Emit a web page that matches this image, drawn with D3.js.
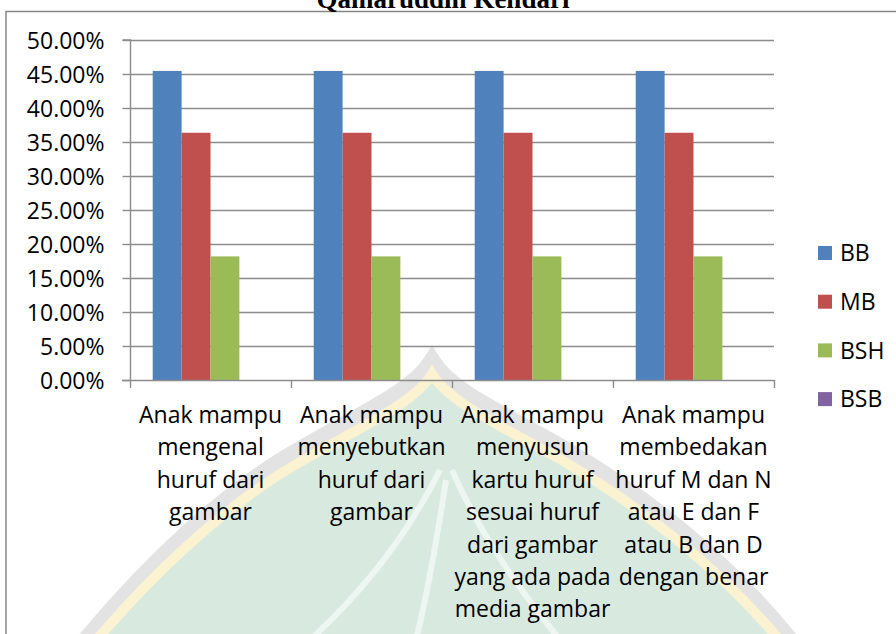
<!DOCTYPE html>
<html>
<head>
<meta charset="utf-8">
<script src="https://cdn.jsdelivr.net/npm/d3@7"></script>
<style>
  body { margin: 0; background: #fff; }
  svg text { font-family: "Open Sans", sans-serif; fill: #000; }
</style>
</head>
<body>
<svg id="chart" width="896" height="634"></svg>
<script>
// data
var categories = [
    ["Anak mampu", "mengenal", "huruf dari", "gambar"],
    ["Anak mampu", "menyebutkan", "huruf dari", "gambar"],
    ["Anak mampu", "menyusun", "kartu huruf", "sesuai huruf", "dari gambar", "yang ada pada", "media gambar"],
    ["Anak mampu", "membedakan", "huruf M dan N", "atau E dan F", "atau B dan D", "dengan benar"]
];
var seriesNames = ["BB", "MB", "BSH", "BSB"];
var seriesColors = ["#4f81bd", "#c0504d", "#9bbb59", "#8064a2"];
var BB = [0.4545, 0.4545, 0.4545, 0.4545];
var MB = [0.3636, 0.3636, 0.3636, 0.3636];
var BSH = [0.1818, 0.1818, 0.1818, 0.1818];
var BSB = [0, 0, 0, 0];
var yTicks = [0, 0.05, 0.10, 0.15, 0.20, 0.25, 0.30, 0.35, 0.40, 0.45, 0.50];

var seriesValues = [BB, MB, BSH, BSB];

var svg = d3.select("#chart");

// faint logo watermark behind the chart
var wm = svg.append("g").attr("class", "watermark");
var arch = "M70,660 C150,560 230,490 300,450 C370,410 415,390 432,362 C449,390 494,410 565,450 C640,495 730,560 805,660 Z";
wm.append("path").attr("d", arch)
    .style("fill", "#d8eadf")
    .style("stroke", "#e3e3e3")
    .style("stroke-width", 18);
wm.append("path").attr("d", arch)
    .style("fill", "none")
    .style("stroke", "#fbf2d2")
    .style("stroke-width", 10)
    .attr("transform", "translate(0,12)");
wm.append("path")
    .attr("d", "M440,470 C410,530 370,585 310,640 M452,470 C480,535 520,590 560,640 M446,480 C436,545 426,600 416,640")
    .style("fill", "none")
    .style("stroke", "#ffffff")
    .style("stroke-width", 6)
    .style("opacity", 0.55);

// chart border
svg.append("path")
    .attr("d", "M6,640 L6,11.5 L900,11.5")
    .style("fill", "none")
    .style("stroke", "#868686")
    .style("stroke-width", 1.5);

// title (cut off at the top, as in the source)
svg.append("text")
    .attr("x", 443)
    .attr("y", 7.5)
    .attr("text-anchor", "middle")
    .style("font-family", "'Liberation Serif', serif")
    .style("font-weight", "bold")
    .style("font-size", "27px")
    .text("Qamaruddin Kendari");

var x = d3.scaleBand()
    .domain(d3.range(categories.length))
    .range([130, 774])
    .padding(0);

var xInner = d3.scaleBand()
    .domain(seriesNames)
    .range([22.7, x.bandwidth() - 22.7])
    .padding(0);

var y = d3.scaleLinear()
    .domain([0, 0.5])
    .range([380, 40]);

// gridlines
svg.append("g")
    .selectAll("line")
    .data(yTicks.slice(1))
    .join("line")
    .attr("x1", 130)
    .attr("x2", 774)
    .attr("y1", function (d) { return Math.round(y(d)) + 0.5; })
    .attr("y2", function (d) { return Math.round(y(d)) + 0.5; })
    .style("stroke", "#8c8c8c")
    .style("stroke-width", 1.4);

// bars
var groups = svg.append("g")
    .selectAll("g")
    .data(seriesNames)
    .join("g")
    .style("fill", function (d, i) { return seriesColors[i]; });

groups.selectAll("rect")
    .data(function (d, i) {
        return seriesValues[i].map(function (v, c) { return { s: d, c: c, v: v }; });
    })
    .join("rect")
    .attr("x", function (d) { return x(d.c) + xInner(d.s); })
    .attr("width", xInner.bandwidth())
    .attr("y", function (d) { return y(d.v); })
    .attr("height", function (d) { return y(0) - y(d.v); });

// y axis
var yAxis = d3.axisLeft(y)
    .tickValues(yTicks)
    .tickSize(8)
    .tickPadding(18)
    .tickFormat(function (d) { return (d * 100).toFixed(2) + "%"; });

var yG = svg.append("g")
    .attr("transform", "translate(130.5,0)")
    .call(yAxis);
yG.select(".domain").style("stroke", "#8c8c8c").style("stroke-width", 1.4)
    .attr("d", "M-8," + y(0.5) + "H0V" + y(0));
yG.selectAll(".tick line").style("stroke", "#8c8c8c").style("stroke-width", 1.4);
yG.selectAll(".tick text")
    .style("font-family", "'Open Sans', sans-serif")
    .style("font-size", "23px")
    .attr("dy", "0.36em");

// x axis line and ticks
var xG = svg.append("g");
xG.append("line")
    .attr("x1", 122).attr("x2", 774)
    .attr("y1", 380.5).attr("y2", 380.5)
    .style("stroke", "#8c8c8c").style("stroke-width", 1.4);
xG.selectAll(".xtick")
    .data(d3.range(categories.length + 1))
    .join("line")
    .attr("class", "xtick")
    .attr("x1", function (d) { return d < categories.length ? x(d) + 0.5 : x.range()[1] + 0.5; })
    .attr("x2", function (d) { return d < categories.length ? x(d) + 0.5 : x.range()[1] + 0.5; })
    .attr("y1", 380)
    .attr("y2", 388)
    .style("stroke", "#8c8c8c").style("stroke-width", 1.4);

// category labels
svg.append("g")
    .selectAll("text")
    .data(categories)
    .join("text")
    .attr("text-anchor", "middle")
    .style("font-size", "23px")
    .attr("transform", function (d, i) {
        return "translate(" + (x(i) + x.bandwidth() / 2) + ",423)";
    })
    .selectAll("tspan")
    .data(function (d) { return d; })
    .join("tspan")
    .attr("x", 0)
    .attr("y", function (d, i) { return i * 32.4; })
    .text(function (d) { return d; });

// legend
var legend = svg.append("g")
    .selectAll("g")
    .data(seriesNames)
    .join("g")
    .attr("transform", function (d, i) { return "translate(818," + (253 + i * 48.7) + ")"; });

legend.append("rect")
    .attr("x", 0)
    .attr("y", -7)
    .attr("width", 14)
    .attr("height", 14)
    .style("fill", function (d, i) { return seriesColors[i]; });

legend.append("text")
    .attr("x", 22)
    .attr("dy", "0.36em")
    .style("font-size", "23px")
    .text(function (d) { return d; });
</script>
</body>
</html>
